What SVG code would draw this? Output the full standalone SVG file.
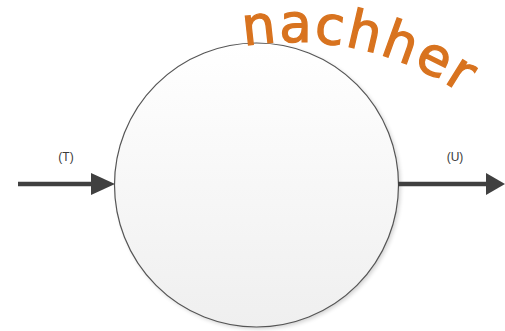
<svg xmlns="http://www.w3.org/2000/svg" width="505" height="331" viewBox="0 0 505 331">
<style>
.lbl{font-family:"Liberation Sans",Arial,sans-serif;font-size:12px;fill:#3a3a3a;text-anchor:middle}
.conn{stroke:#404040;stroke-width:4.5;fill:none}
.head{fill:#404040}
.title{font-family:"DejaVu Sans","Liberation Sans",sans-serif;font-size:53px;fill:#d8731f;stroke:#d8731f;stroke-width:1.3}
</style>
<defs>
<linearGradient id="g" x1="0" y1="0" x2="0" y2="1">
<stop offset="0" stop-color="#ffffff"/>
<stop offset="1" stop-color="#efefef"/>
</linearGradient>
<filter id="sh" x="-10%" y="-10%" width="120%" height="120%">
<feGaussianBlur stdDeviation="2"/>
</filter>
<path id="arc" d="M 244 46 A 300 300 0 0 1 486 112"/>
</defs>
<rect width="505" height="331" fill="#ffffff"/>
<g id="node-circle">
<circle cx="258.5" cy="187" r="142" fill="#000" opacity="0.18" filter="url(#sh)"/>
<circle cx="256.5" cy="185" r="142" fill="url(#g)" stroke="#555" stroke-width="1.2"/>
</g>
<g id="connectors">
<line class="conn" x1="18" y1="184" x2="95" y2="184"/>
<polygon class="head" points="91,173 115,184 91,195"/>
<line class="conn" x1="398" y1="184" x2="490" y2="184"/>
<polygon class="head" points="486,173 505,184 486,195"/>
</g>
<g id="labels">
<text class="lbl" x="66" y="161">(T)</text>
<text class="lbl" x="455" y="161">(U)</text>
</g>
<g id="title">
<text class="title" textLength="228" lengthAdjust="spacing"><textPath href="#arc">nachher</textPath></text>
</g>
</svg>
